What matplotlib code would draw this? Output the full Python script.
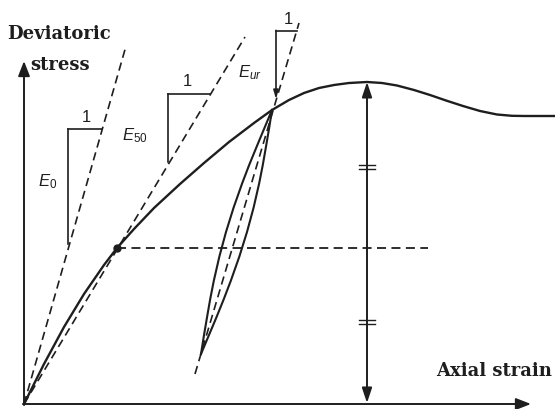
"""Schematic stress-strain curve with E0, E50 and Eur moduli."""

import numpy as np
import matplotlib
matplotlib.use("Agg")
import matplotlib.pyplot as plt

plt.rcParams["mathtext.fontset"] = "custom"
plt.rcParams["mathtext.it"] = "Liberation Sans:italic"
plt.rcParams["mathtext.rm"] = "Liberation Sans"

INK = "#1e1e1e"

# main curve (axial strain, deviatoric stress), arbitrary units
strain = [0, 20, 40, 60, 80, 93, 110, 130, 156, 180, 205, 230, 248, 265, 280,
          295, 310, 325, 343, 358, 373, 390, 406, 422, 439, 456, 473, 488, 501, 531]
stress = [0, 40, 77, 110, 139, 156, 175, 196, 220, 241, 262, 281, 294, 304, 311,
          316, 319, 321, 322, 321, 318.5, 314, 309, 303.5, 298, 293, 289.5, 288.2, 288, 288]

# unload/reload loop
loop_y = [294, 275.7, 257.4, 239.1, 220.8, 196.4, 172, 147.6, 123.2, 104.9, 86.6, 68.3, 50]
loop_left_x = [248, 240.3, 232.7, 225.2, 218.2, 209.6, 202, 195.4, 189.8, 186.2, 183, 179.9, 177]
loop_right_x = [248, 245.1, 242.0, 238.8, 235.2, 229.6, 223, 215.4, 206.8, 199.8, 192.4, 184.7, 177]

# moduli lines (x pair, y pair)
e0_line = ([0, 102], [0, 358])
e50_line = ([0, 221], [0, 367])
eur_line = ([171, 275], [30, 381])

# slope triangles: (vertical x, top y, bottom y, horizontal end x)
triangles = [(44, 275, 160, 78), (144, 310, 242, 186), (252, 373, 305, 273)]
one_pos = [(62, 287), (163, 323), (264, 385)]

mod_labels = [r"$E_{\mathrm{0}}$", r"$E_{\mathrm{50}}$", r"$E_{ur}$"]
mod_label_pos = [(24, 223), (111, 269), (226, 332)]

half_point = (93, 156)
half_end = 404
peak_x = 343
peak_y = 322
tick_y = [237, 82]

fig = plt.figure(figsize=(5.55, 4.10), dpi=100)
ax = fig.add_axes([0, 0, 1, 1])
ax.set_xlim(-24, 531)
ax.set_ylim(-5, 405)
ax.axis("off")

dash = (0, (5, 3))
head = "head_length=0.9,head_width=0.35"

# axes with arrows
ax.annotate("", xy=(0, 343), xytext=(0, -1),
            arrowprops=dict(arrowstyle="-|>," + head, color=INK, lw=1.4,
                            shrinkA=0, shrinkB=0))
ax.annotate("", xy=(507, 0), xytext=(-1, 0),
            arrowprops=dict(arrowstyle="-|>," + head, color=INK, lw=1.4,
                            shrinkA=0, shrinkB=0))

# moduli lines
for xs, ys in (e0_line, e50_line, eur_line):
    ax.plot(xs, ys, color=INK, lw=1.2, ls=dash)

# triangles
for i, ((vx, top, bot, hx), (ox, oy)) in enumerate(zip(triangles, one_pos)):
    ax.plot([hx, vx], [top, top], color=INK, lw=1.2)
    if i == 2:
        ax.annotate("", xy=(vx, bot), xytext=(vx, top + 0.6),
                    arrowprops=dict(arrowstyle="-|>,head_length=0.5,head_width=0.15",
                                    color=INK, lw=1.2, shrinkA=0, shrinkB=0))
    else:
        ax.plot([vx, vx], [top, bot], color=INK, lw=1.2)
    ax.text(ox, oy, "1", fontsize=12, family="Liberation Sans",
            ha="center", va="center", color=INK)

for lab, (lx, ly) in zip(mod_labels, mod_label_pos):
    ax.text(lx, ly, lab, fontsize=12, ha="center", va="center", color=INK)

# curve and loop
ax.plot(strain, stress, color=INK, lw=1.7, solid_joinstyle="round")
ax.plot(loop_left_x, loop_y, color=INK, lw=1.5, solid_joinstyle="round")
ax.plot(loop_right_x, loop_y, color=INK, lw=1.5, solid_joinstyle="round")

# 50% point
ax.plot([half_point[0], half_end], [half_point[1], half_point[1]],
        color=INK, lw=1.3, ls=dash)
ax.plot(*half_point, "o", color=INK, ms=5)

# peak double arrow with equal-length marks
ax.annotate("", xy=(peak_x, peak_y), xytext=(peak_x, 1),
            arrowprops=dict(arrowstyle="<|-|>,head_length=0.9,head_width=0.3",
                            color=INK, lw=1.4, shrinkA=0, shrinkB=0))
for ty in tick_y:
    for d in (-1.6, 1.6):
        ax.plot([peak_x - 8, peak_x + 8], [ty + d, ty + d], color=INK, lw=1.0)

txt = dict(family="DejaVu Serif", weight="bold", fontsize=13, color=INK)
ax.text(35, 371, "Deviatoric", ha="center", va="center", **txt)
ax.text(36, 340, "stress", ha="center", va="center", **txt)
ax.text(470, 34, "Axial strain", ha="center", va="center", **txt)

fig.savefig("out.png", dpi=100)
